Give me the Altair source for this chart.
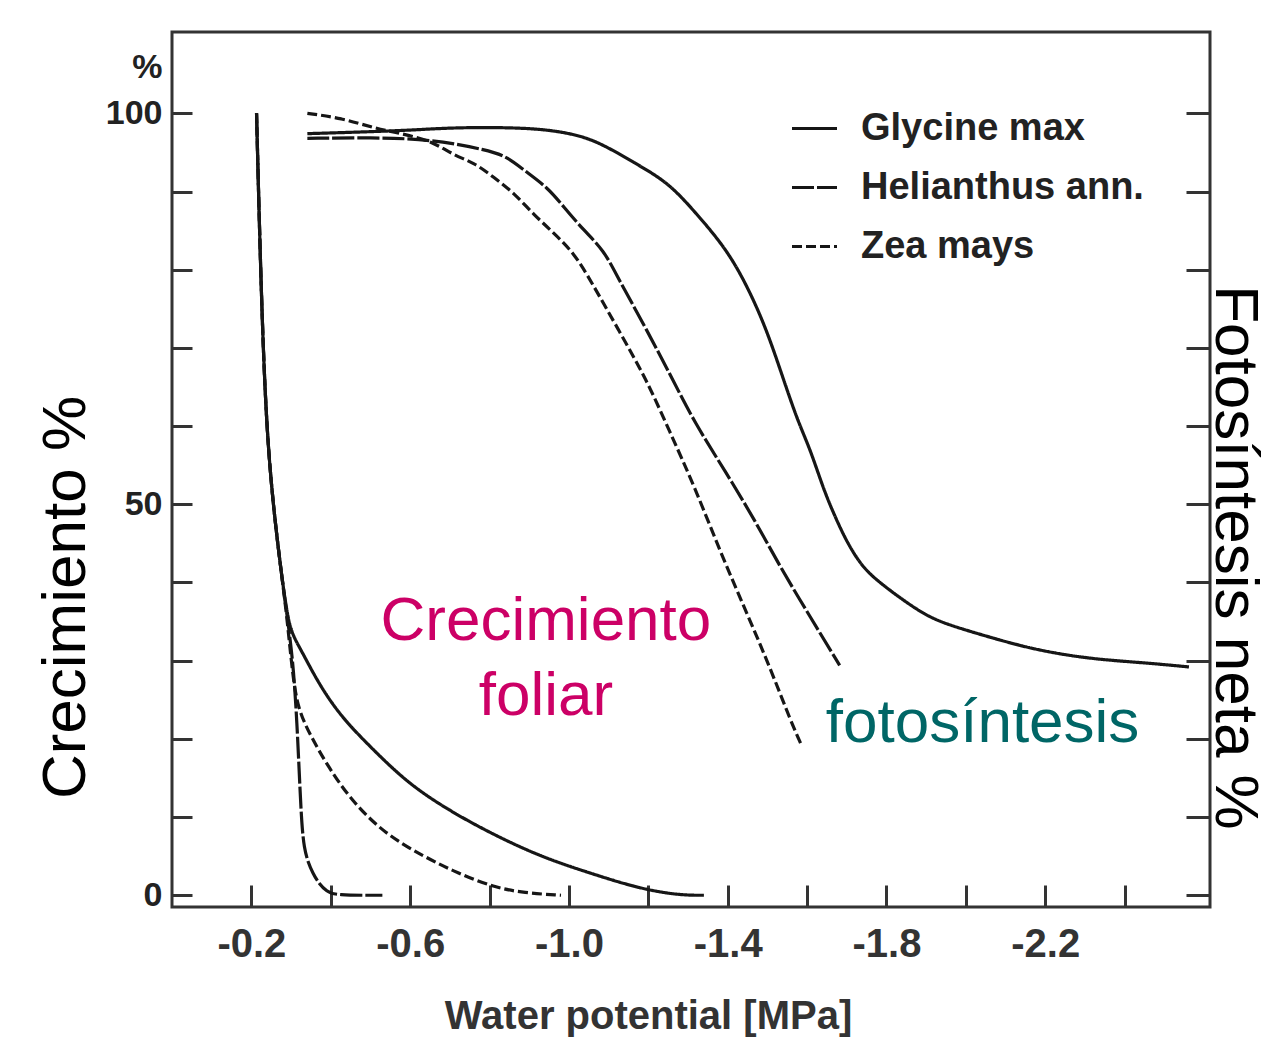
import altair as alt
import pandas as pd

SPECIES = ["Glycine max", "Helianthus ann.", "Zea mays"]

# ---- leaf growth (Crecimiento foliar), water potential in MPa, % ----
gro_gly_x = [-0.213, -0.225, -0.240, -0.268, -0.288, -0.301, -0.326, -0.369, -0.426, -0.509,
             -0.595, -0.696, -0.804, -0.930, -1.055, -1.181, -1.280, -1.340]
gro_gly_y = [100, 76, 57, 44, 36.5, 33.5, 31.3, 27.1, 22.8, 18.5,
             14.3, 10.9, 7.9, 4.9, 2.8, 0.8, 0, 0]

gro_zea_x = [-0.213, -0.225, -0.240, -0.268, -0.288, -0.304, -0.318, -0.351, -0.394, -0.452,
             -0.535, -0.636, -0.721, -0.812, -0.887, -0.980]
gro_zea_y = [100, 76, 57, 44, 36.5, 28, 23.7, 20.2, 16.4, 12.1,
             7.9, 4.9, 2.8, 1.0, 0.3, 0]

gro_hel_x = [-0.213, -0.225, -0.240, -0.268, -0.288, -0.305, -0.315, -0.322, -0.327, -0.333,
             -0.343, -0.355, -0.370, -0.390, -0.410, -0.530]
gro_hel_y = [100, 76, 57, 44, 36.5, 30, 22, 14, 9, 6,
             4.2, 2.8, 1.5, 0.5, 0, 0]

# ---- net photosynthesis (fotosíntesis neta) ----
pho_gly_x = [-0.341, -0.600, -0.703, -0.904, -1.013, -1.080, -1.164, -1.249, -1.314, -1.400,
             -1.458, -1.501, -1.541, -1.576, -1.609, -1.642, -1.674, -1.702, -1.740, -1.785,
             -1.843, -1.908, -1.974, -2.067, -2.160, -2.253, -2.346, -2.459, -2.562]
pho_gly_y = [97.4, 97.8, 98.2, 98.2, 97.4, 96.2, 93.7, 91.2, 87.6, 82.5,
             77.0, 71.9, 65.9, 60.7, 56.9, 51.8, 48.0, 45.0, 41.9, 39.9,
             37.7, 35.5, 34.3, 32.9, 31.6, 30.7, 30.1, 29.7, 29.2]

pho_hel_x = [-0.341, -0.502, -0.653, -0.796, -0.846, -0.887, -0.947, -0.987, -1.038, -1.088,
             -1.123, -1.194, -1.262, -1.317, -1.393, -1.468, -1.533, -1.609, -1.682]
pho_hel_y = [96.8, 96.9, 96.7, 95.3, 94.4, 92.7, 90.5, 88.0, 85.0, 82.5,
             79.0, 72.5, 65.9, 60.4, 54.3, 48.0, 41.9, 35.5, 29.4]

pho_zea_x = [-0.341, -0.427, -0.510, -0.578, -0.653, -0.711, -0.761, -0.811, -0.862, -0.912,
             -0.962, -1.013, -1.055, -1.126, -1.196, -1.252, -1.317, -1.383, -1.448, -1.506,
             -1.561, -1.584]
pho_zea_y = [100, 99.4, 98.1, 97.4, 96.5, 94.6, 93.7, 91.8, 89.8, 87.0,
             84.7, 82.1, 78.6, 72.2, 65.9, 59.5, 52.2, 43.7, 36.1, 29.2,
             22.0, 19.4]

# ---- annotations ----
ann_text = ["Crecimiento", "foliar", "fotosíntesis"]
ann_x = [-0.942, -0.942, -2.042]
ann_y = [32.6, 23.0, 19.6]
ann_kind = ["crec", "crec", "foto"]

x_label_values = [-0.2, -0.6, -1.0, -1.4, -1.8, -2.2]
x_tick_values = [-0.2, -0.4, -0.6, -0.8, -1.0, -1.2, -1.4, -1.6, -1.8, -2.0, -2.2, -2.4]
y_tick_values = [0, 10, 20, 30, 40, 50, 60, 70, 80, 90, 100]
y_label_values = [0, 50, 100, 105.8]


def frame(curves):
    rows = []
    for name, sp, xs, ys in curves:
        for x, y in zip(xs, ys):
            rows.append({"curve": name, "species": sp, "psi": x, "pct": y})
    return pd.DataFrame(rows)


W, H = 1038, 875
FONT = "Liberation Sans"
INK = "#161616"

x_scale = alt.Scale(domain=[0, -2.615], nice=False, zero=False)
y_scale = alt.Scale(domain=[-1.5, 110.4], nice=False, zero=False)
dash_scale = alt.Scale(domain=SPECIES, range=[[1, 0], [22, 3], [10, 4]])

legend = alt.Legend(
    title=None, orient="none", legendX=618, legendY=72, padding=0,
    symbolType="stroke", symbolSize=2025, symbolStrokeWidth=3.2,
    symbolStrokeColor=INK, labelFont=FONT, labelFontSize=38, labelLimit=500,
    labelFontWeight="bold", labelColor="#222", labelOffset=22, rowPadding=15,
)


def lines(df, x_axis, y_axis, show_legend=False):
    dash = (alt.StrokeDash("species:N", scale=dash_scale, legend=legend)
            if show_legend else
            alt.StrokeDash("species:N", scale=dash_scale))
    return alt.Chart(df).mark_line(
        color=INK, strokeWidth=3.2, interpolate="basis"
    ).encode(
        x=alt.X("psi:Q", scale=x_scale, axis=x_axis),
        y=alt.Y("pct:Q", scale=y_scale, axis=y_axis),
        strokeDash=dash,
        detail="curve:N",
    )


# axis with labels (bottom) and title
x_labels = alt.Axis(
    orient="bottom", values=x_label_values,
    labelExpr="'-' + format(abs(datum.value), '.1f')",
    ticks=False, tickSize=0, domain=False, grid=False, labelOverlap=False,
    labelFont=FONT, labelFontSize=40, labelFontWeight="bold", labelColor="#333",
    labelPadding=17,
    title="Water potential [MPa]", titleFont=FONT, titleFontSize=40,
    titleFontWeight="bold", titleColor="#333", titleX=476, titleY=109,
    titleAlign="center", titleBaseline="middle",
)
y_labels = alt.Axis(
    orient="left", values=y_label_values,
    labelExpr="datum.value > 101 ? '%' : datum.label",
    ticks=False, tickSize=0, domain=False, grid=False, labelOverlap=False,
    labelFont=FONT, labelFontSize=34, labelFontWeight="bold", labelColor="#222",
    labelPadding=10,
    title="Crecimiento %", titleFont=FONT, titleFontSize=62, titleFontWeight="normal",
    titleColor="black", titleAngle=270, titleX=-88, titleY=565,
    titleAlign="center", titleBaseline="alphabetic",
)
# inward ticks: bottom edge
x_ticks_in = alt.Axis(
    orient="top", offset=-H, values=x_tick_values, labels=False, domain=False,
    grid=False, ticks=True, tickSize=22, tickWidth=3, tickColor="#333", title=None,
)
# inward ticks: left edge
y_ticks_left = alt.Axis(
    orient="right", offset=-W, values=y_tick_values, labels=False, domain=False,
    grid=False, ticks=True, tickSize=20, tickWidth=3, tickColor="#333", title=None,
)
# inward ticks: right edge
y_ticks_right = alt.Axis(
    orient="left", offset=-W, values=y_tick_values, labels=False, domain=False,
    grid=False, ticks=True, tickSize=24, tickWidth=3, tickColor="#333", title=None,
)
# right title
y_right_title = alt.Axis(
    orient="right", values=y_tick_values, labels=False, ticks=False, tickSize=0,
    domain=False, grid=False,
    title="Fotosíntesis neta %", titleFont=FONT, titleFontSize=62,
    titleFontWeight="normal", titleColor="black", titleAngle=90, titleX=5,
    titleY=525, titleAlign="center", titleBaseline="alphabetic",
)

df1 = frame([("g_gly", SPECIES[0], gro_gly_x, gro_gly_y)])
df2 = frame([("g_hel", SPECIES[1], gro_hel_x, gro_hel_y),
             ("g_zea", SPECIES[2], gro_zea_x, gro_zea_y)])
df3 = frame([("p_gly", SPECIES[0], pho_gly_x, pho_gly_y)])
df4 = frame([("p_hel", SPECIES[1], pho_hel_x, pho_hel_y),
             ("p_zea", SPECIES[2], pho_zea_x, pho_zea_y)])

l1 = lines(df1, x_labels, y_labels, show_legend=True)
l2 = lines(df2, x_ticks_in, y_ticks_left)
l3 = lines(df3, None, y_ticks_right)
l4 = lines(df4, None, y_right_title)

ann_df = pd.DataFrame({"text": ann_text, "psi": ann_x, "pct": ann_y, "kind": ann_kind})
texts = alt.Chart(ann_df).mark_text(
    font=FONT, fontSize=62, align="center", baseline="alphabetic"
).encode(
    x=alt.X("psi:Q", scale=x_scale, axis=None),
    y=alt.Y("pct:Q", scale=y_scale, axis=None),
    text="text:N",
    color=alt.Color("kind:N", scale=alt.Scale(domain=["crec", "foto"],
                                               range=["#CC0066", "#006666"]),
                    legend=None),
)

chart = alt.layer(l1, l2, l3, l4, texts).resolve_axis(
    x="independent", y="independent"
).properties(
    width=W, height=H,
    autosize=alt.AutoSizeParams(type="none"),
    padding={"left": 172, "top": 32, "right": 76, "bottom": 131},
    background="white",
).configure_view(
    stroke="#333", strokeWidth=3
)

chart.save("out.html", embed_options={"renderer": "svg", "actions": False})
